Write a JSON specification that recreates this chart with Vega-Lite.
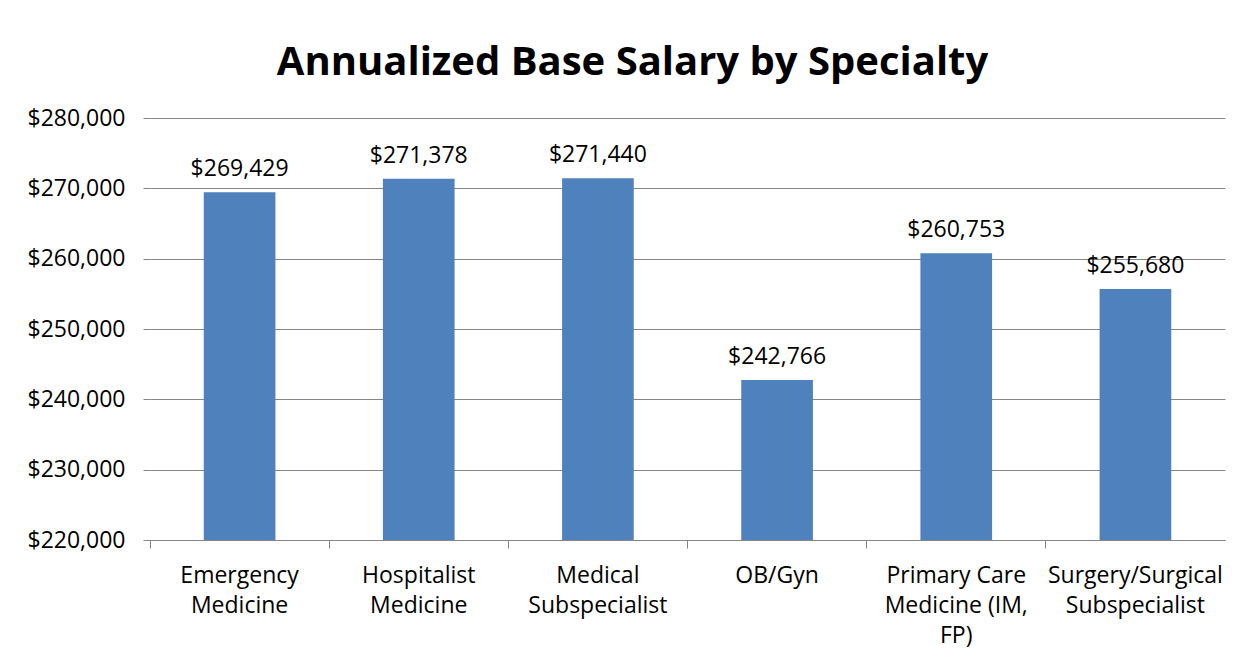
{
  "$schema": "https://vega.github.io/schema/vega-lite/v6.json",
  "autosize": {"type": "none"},
  "width": 1075,
  "height": 422,
  "padding": {"left": 150, "top": 118, "right": 28, "bottom": 128},
  "background": "white",
  "title": {
    "text": "Annualized Base Salary by Specialty",
    "font": "Open Sans",
    "fontSize": 40,
    "fontWeight": "bold",
    "color": "black",
    "anchor": "middle",
    "frame": "group",
    "dx": -55,
    "offset": 24
  },
  "data": {
    "values": [
      {"specialty": "Emergency Medicine", "salary": 269429},
      {"specialty": "Hospitalist Medicine", "salary": 271378},
      {"specialty": "Medical Subspecialist", "salary": 271440},
      {"specialty": "OB/Gyn", "salary": 242766},
      {"specialty": "Primary Care Medicine (IM, FP)", "salary": 260753},
      {"specialty": "Surgery/Surgical Subspecialist", "salary": 255680}
    ]
  },
  "encoding": {
    "x": {
      "field": "specialty",
      "type": "nominal",
      "sort": null,
      "scale": {"paddingInner": 0, "paddingOuter": 0},
      "axis": {
        "title": null,
        "labelAngle": 0,
        "bandPosition": 0,
        "labelFont": "Open Sans",
        "labelFontSize": 23,
        "labelColor": "black",
        "labelPadding": 16,
        "labelLineHeight": 30,
        "labelBaseline": "top",
        "tickSize": 8,
        "tickColor": "#868686",
        "domainColor": "#868686",
        "labelExpr": "datum.label == 'Emergency Medicine' ? ['Emergency', 'Medicine'] : datum.label == 'Hospitalist Medicine' ? ['Hospitalist', 'Medicine'] : datum.label == 'Medical Subspecialist' ? ['Medical', 'Subspecialist'] : datum.label == 'Primary Care Medicine (IM, FP)' ? ['Primary Care', 'Medicine (IM,', 'FP)'] : datum.label == 'Surgery/Surgical Subspecialist' ? ['Surgery/Surgical', 'Subspecialist'] : datum.label"
      }
    },
    "y": {
      "field": "salary",
      "type": "quantitative",
      "scale": {"domain": [220000, 280000], "zero": false, "nice": false},
      "axis": {
        "title": null,
        "values": [220000, 230000, 240000, 250000, 260000, 270000, 280000],
        "format": "$,d",
        "labelFont": "Open Sans",
        "labelFontSize": 23,
        "labelColor": "black",
        "labelPadding": 18,
        "tickSize": 7,
        "tickColor": "#868686",
        "gridColor": "#868686",
        "gridOpacity": 1,
        "domain": false
      }
    }
  },
  "layer": [
    {
      "mark": {"type": "bar", "color": "#4F81BD", "width": {"band": 0.4}, "clip": true}
    },
    {
      "mark": {"type": "text", "font": "Open Sans", "fontSize": 23, "color": "black", "baseline": "alphabetic", "dy": -16},
      "encoding": {
        "text": {"field": "salary", "type": "quantitative", "format": "$,d"}
      }
    }
  ],
  "config": {
    "view": {"stroke": null}
  }
}
